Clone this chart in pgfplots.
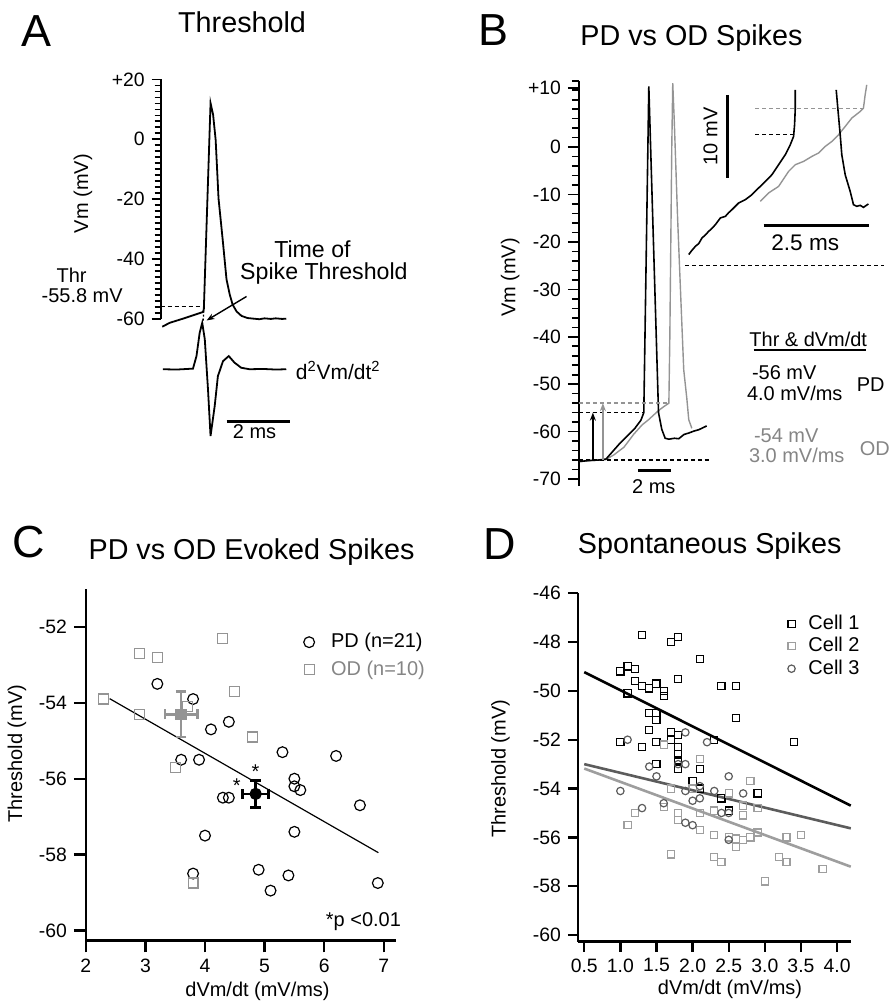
\documentclass[border=0pt]{standalone}
\usepackage{pgfplots}
\pgfplotsset{compat=1.18}
\usepackage{fontspec}
\setmainfont{Liberation Sans}
\usetikzlibrary{arrows.meta}
\definecolor{odgray}{gray}{0.58}
\definecolor{odtext}{gray}{0.52}
\definecolor{ltgray}{gray}{0.62}
\definecolor{dkgray}{gray}{0.36}
\newcommand\tickfont{\fontsize{9.7}{11}\selectfont}
\newcommand\labfont{\fontsize{10}{12}\selectfont}
\newcommand\titfont{\fontsize{14.4}{16}\selectfont}
\newcommand\letfont{\fontsize{22.5}{26}\selectfont}
\tikzset{px/.style={x=0.5pt,y=-0.5pt}}
\begin{document}
\begin{tikzpicture}
\pgfplotsset{every axis/.append style={scale only axis, clip=false,
  /pgf/number format/assume math mode=true,
  tick label style={font=\tickfont}, tick align=outside}}
\begin{scope}[px]
\path[use as bounding box] (0,0) rectangle (886,1007);
\end{scope}

% ---------------- Panel A ----------------
\begin{axis}[at={(80.5pt,-159.75pt)}, anchor=south west, width=67.2pt, height=120pt,
  xmin=0, xmax=4.2, ymin=-60, ymax=20,
  axis x line=none, axis y line*=left,
  ytick={-60,-40,-20,0,20}, yticklabels={-60,-40,-20,0,+20},
  minor y tick num=9, major tick length=4.5pt, minor tick length=3pt,
  axis line style={line width=0.9pt}, tick style={line width=0.8pt, black}]
\addplot[black, line width=0.9pt] coordinates {
(0.05,-62.6) (0.28,-61.3) (0.70,-59.9) (1.01,-58.8) (1.32,-57.7) (1.35,-56.8)
(1.56,12.1) (1.64,8.2) (1.72,-0.2) (1.81,-19.8) (1.94,-33.5) (2.06,-46.8)
(2.16,-51.8) (2.25,-55.2) (2.375,-57.5) (2.53,-59.0) (2.72,-59.7) (2.9,-59.9)
(3.09,-60.1) (3.25,-59.8) (3.45,-60.0) (3.6,-59.8) (3.8,-60.0) (3.93,-59.9)};
\addplot[black, line width=0.9pt] coordinates {
(0.07,-76.8) (0.5,-76.9) (1.01,-76.6) (1.12,-72.4) (1.22,-64.6) (1.30,-61.3)
(1.38,-66.8) (1.48,-83.5) (1.56,-99.1) (1.69,-89.1) (1.79,-79.1) (1.95,-74.1)
(2.13,-72.4) (2.31,-74.6) (2.52,-76.3) (2.78,-76.8) (3.2,-76.7) (3.6,-76.9) (3.93,-76.8)};
\draw[black, line width=0.7pt, dash pattern=on 2pt off 1.5pt] (axis cs:0,-55.9) -- (axis cs:1.35,-55.9);
\draw[black, line width=0.6pt, dash pattern=on 1pt off 1pt] (axis cs:1.35,-57.2) -- (axis cs:1.33,-60.8);
\end{axis}

% ---------------- Panel B ----------------
\begin{axis}[at={(290pt,-243.5pt)}, anchor=south west, width=64.8pt, height=203.05pt,
  xmin=0, xmax=8, ymin=-71.5, ymax=14,
  axis x line=none, axis y line*=left,
  ytick={-70,-60,-50,-40,-30,-20,-10,0,12.5},
  yticklabels={-70,-60,-50,-40,-30,-20,-10,0,+10},
  minor ytick={-70,-68,...,14}, major tick length=5.5pt, minor tick length=3.5pt,
  axis line style={line width=0.9pt}, tick style={line width=0.8pt, black}]
\addplot[odgray, line width=0.7pt] coordinates {
(0.06,-66.3) (0.8,-66.1) (1.67,-65.9) (2.16,-64.9) (2.78,-63.3) (3.40,-60.5)
(3.9,-58.6) (4.3,-57.5) (4.94,-55.5) (5.3,-54.6) (5.56,-54.0) (5.62,-40)
(5.74,0) (5.80,13.5) (5.9,5) (6.1,-15) (6.3,-32) (6.48,-47) (6.67,-53)
(6.79,-57.5) (6.98,-59.3)};
\addplot[black, line width=0.8pt] coordinates {
(0.06,-66.3) (0.6,-66.1) (1.2,-66.0) (1.67,-65.8) (1.98,-64.6) (2.47,-62.7)
(2.96,-61.0) (3.46,-59.3) (3.83,-57.6) (4.01,-56.0) (4.32,12.8) (4.92,-56)
(5.12,-59.5) (5.33,-61.4) (5.56,-61.6) (5.9,-61.4) (6.17,-61.5) (6.5,-60.6)
(6.79,-60.3) (7.1,-59.9) (7.41,-59.6) (7.9,-58.8)};
\draw[black, line width=0.7pt, dash pattern=on 2pt off 1.5pt] (axis cs:0,-56) -- (axis cs:4.01,-56);
\draw[odgray, line width=0.7pt, dash pattern=on 2pt off 1.5pt] (axis cs:0,-54) -- (axis cs:5.56,-54);
\draw[black, line width=0.7pt, dash pattern=on 2pt off 1.5pt] (axis cs:0,-66) -- (axis cs:8.1,-66);
\draw[black, line width=0.8pt, -{Stealth[length=4pt,width=3pt]}] (axis cs:0.86,-66) -- (axis cs:0.86,-56);
\draw[odgray, line width=0.8pt, -{Stealth[length=4pt,width=3pt]}] (axis cs:1.48,-66) -- (axis cs:1.48,-54);
\end{axis}
% inset
\begin{axis}[at={(340pt,-37.5pt)}, anchor=north west, width=103pt, height=100pt,
  xmin=680, xmax=886, ymin=75, ymax=275, y dir=reverse, hide axis]
\addplot[odgray, line width=0.7pt] coordinates {
(761.7,201.7) (770,193.3) (780,186.7) (790,171.7) (796.7,165) (805,161.7)
(813.3,156.7) (820,153.3) (826.7,146.7) (833.3,141.7) (840,135) (846.7,126.7)
(853.3,118.3) (861.7,111.7) (865,108.3) (866.7,95) (868.3,85)};
\addplot[black, line width=0.8pt] coordinates {
(690,255) (693,251) (696.7,246.7) (700,244) (703.3,238.3) (706,236) (710,231.7)
(713,229) (716.7,225) (721.7,218.3) (726.7,216.7) (730,213) (733.3,210) (740,203.3)
(746.7,200) (753.3,195) (760,188.3) (766.7,181.7) (773.3,175) (780,165)
(786.7,155) (791.7,145) (795,136.7) (796,125) (796.7,108.3) (796.7,90)};
\addplot[black, line width=0.8pt] coordinates {
(837.7,90) (839.3,108.3) (841.7,135) (843.3,155) (846.7,175) (851.7,191.7)
(855,205) (858.3,206.7) (861.7,205.7) (865,207.7) (870,204.3)};
\draw[odgray, line width=0.6pt, dash pattern=on 2pt off 1.5pt] (axis cs:756.7,108.3) -- (axis cs:866.7,108.3);
\draw[black, line width=0.7pt, dash pattern=on 2pt off 1.5pt] (axis cs:756.7,135) -- (axis cs:795,135);
\end{axis}

% ---------------- Panel C ----------------
\begin{axis}[at={(43pt,-471pt)}, anchor=south west, width=155.2pt, height=175.95pt,
  xmin=2, xmax=7.2, ymin=-60.26, ymax=-51.0,
  axis lines*=left, xtick={2,3,4,5,6,7}, ytick={-60,-58,-56,-54,-52},
  major tick length=6pt,
  axis line style={line width=1.2pt}, tick style={line width=1.2pt, black},
  legend style={at={(axis cs:5.55,-51.95)}, anchor=north west, draw=none, fill=none,
    font=\labfont, row sep=1pt},
  legend image code/.code={\draw[#1] plot coordinates {(0pt,0pt)}; \path[draw=none] (0pt,0pt) -- (9pt,0pt);},
  legend cell align=left]
\addplot[black, line width=0.6pt, forget plot] coordinates {(2.4,-53.89) (6.91,-57.95)};
\addplot[only marks, mark=o, mark size=2.7pt, black, mark options={line width=0.6pt}] coordinates {
(3.2,-53.5) (3.8,-53.9) (4.1,-54.7) (4.4,-54.5) (3.6,-55.5) (3.9,-55.5) (5.3,-55.3)
(6.2,-55.4) (5.5,-56.0) (5.5,-56.2) (5.6,-56.3) (4.3,-56.5) (4.4,-56.5) (6.6,-56.7)
(4.0,-57.5) (5.5,-57.4) (4.9,-58.4) (5.4,-58.55) (5.1,-58.95) (6.9,-58.75) (3.8,-58.5)};
\addlegendentry{PD (n=21)}
\addplot[only marks, mark=square, mark size=2.5pt, odgray, mark options={line width=0.6pt}] coordinates {
(2.3,-53.9) (2.9,-52.7) (3.2,-52.8) (2.9,-54.3) (4.3,-52.3) (4.5,-53.7) (4.8,-54.9)
(3.5,-55.7) (3.8,-58.75) (3.7,-54.1)};
\addlegendentry{\textcolor{odtext}{OD (n=10)}}
\addplot[odgray, mark=square*, mark size=2.2pt, line width=1.3pt, forget plot,
  error bars/.cd, x dir=both, x explicit, y dir=both, y explicit,
  error bar style={line width=1.3pt},
  error mark options={rotate=90, mark size=2.6pt, line width=1.3pt}]
  coordinates {(3.6,-54.3) +- (0.27,0.6)};
\addplot[black, mark=*, mark size=2.4pt, line width=1.3pt, forget plot,
  error bars/.cd, x dir=both, x explicit, y dir=both, y explicit,
  error bar style={line width=1.3pt},
  error mark options={rotate=90, mark size=2.6pt, line width=1.3pt}]
  coordinates {(4.85,-56.4) +- (0.22,0.36)};
\end{axis}

% ---------------- Panel D ----------------
\begin{axis}[at={(289.5pt,-471.65pt)}, anchor=south west, width=136.65pt, height=174.5pt,
  xmin=0.413, xmax=4.19, ymin=-60.27, ymax=-46,
  axis lines*=left, xtick={0.5,1.0,1.5,2.0,2.5,3.0,3.5,4.0},
  ytick={-60,-58,-56,-54,-52,-50,-48,-46},
  xticklabel style={/pgf/number format/.cd, fixed, fixed zerofill, precision=1},
  major tick length=5pt,
  axis line style={line width=1.2pt}, tick style={line width=1.2pt, black},
  legend style={at={(axis cs:3.23,-46.55)}, anchor=north west, draw=none, fill=none,
    font=\labfont, row sep=-1.5pt},
  legend image code/.code={\draw[#1] plot coordinates {(0pt,0pt)}; \path[draw=none] (0pt,0pt) -- (6.5pt,0pt);},
  legend cell align=left]
\addplot[only marks, mark=square, mark size=1.8pt, black, mark options={line width=0.6pt}] coordinates {
(1.0,-49.2) (1.1,-49.0) (1.2,-49.1) (1.1,-50.1) (1.2,-49.6) (1.3,-47.7) (1.3,-49.8)
(1.4,-49.9) (1.5,-49.7) (1.6,-50.0) (1.6,-50.2) (1.7,-48.0) (1.8,-47.8) (1.8,-49.5)
(2.1,-48.7) (2.4,-49.8) (2.6,-49.8) (2.6,-51.1) (3.4,-52.1) (1.4,-50.9) (1.5,-50.9)
(1.5,-51.2) (1.4,-51.6) (1.0,-52.1) (1.3,-52.3) (1.5,-52.1) (1.5,-53.0) (1.7,-51.7)
(1.7,-52.0) (1.8,-51.8) (1.8,-52.3) (1.8,-52.6) (1.8,-52.85) (1.8,-53.2) (2.1,-53.2)
(2.3,-52.0) (2.0,-53.7) (2.1,-54.0) (2.4,-54.4) (2.5,-54.9) (2.9,-54.2)};
\addlegendentry{Cell 1}
\addplot[only marks, mark=square, mark size=1.8pt, ltgray, mark options={line width=0.6pt}] coordinates {
(1.6,-52.2) (2.1,-52.8) (1.1,-55.5) (1.2,-55.0) (1.6,-54.75) (1.7,-54.0) (1.8,-55.0)
(1.8,-55.3) (1.7,-56.7) (2.0,-54.0) (2.1,-55.0) (2.1,-55.7) (2.3,-54.9) (2.3,-55.9)
(2.3,-56.8) (2.4,-57.0) (2.5,-54.2) (2.5,-56.0) (2.6,-56.4) (2.6,-56.05) (2.7,-54.7)
(2.7,-55.1) (2.7,-56.1) (2.8,-56.0) (2.8,-53.7) (2.9,-54.8) (2.9,-55.8) (3.2,-56.8)
(3.3,-56.0) (3.3,-57.0) (3.0,-57.8) (3.5,-55.9) (3.8,-57.3)};
\addlegendentry{Cell 2}
\addplot[only marks, mark=o, mark size=1.85pt, dkgray, mark options={line width=0.6pt}] coordinates {
(1.0,-54.1) (1.1,-52.0) (1.3,-54.8) (1.4,-53.1) (1.5,-53.5) (1.6,-54.6) (1.8,-53.0)
(1.9,-53.0) (1.9,-51.7) (1.9,-54.1) (1.9,-55.4) (2.0,-54.5) (2.0,-55.5) (2.1,-53.9)
(2.1,-54.4) (2.2,-52.1) (2.3,-54.1) (2.4,-55.0) (2.5,-53.5) (2.5,-55.0) (2.5,-56.1)
(2.7,-54.2)};
\addlegendentry{Cell 3}
\addplot[black, line width=1.3pt, forget plot] coordinates {(0.5,-49.23) (4.19,-54.7)};
\addplot[dkgray, line width=1.3pt, forget plot] coordinates {(0.5,-53.0) (4.19,-55.63)};
\addplot[ltgray, line width=1.3pt, forget plot] coordinates {(0.5,-53.18) (4.19,-57.2)};
\end{axis}

% ---------------- decorations (pixel coordinates) ----------------
\begin{scope}[px]
% A
\node[font=\letfont,anchor=base] at (37,46.7) {A};
\node[font=\titfont,anchor=base] at (242.5,32.3) {Threshold};
\node[font=\labfont, rotate=90] at (83,194) {Vm (mV)};
\draw[line width=0.7pt, -{Stealth[length=4pt,width=3pt]}] (247,297) -- (207,321);
\node[font=\fontsize{11.6}{13}\selectfont, anchor=base, inner sep=0pt] at (313,258) {Time of};
\node[font=\fontsize{11.6}{13}\selectfont, anchor=base, inner sep=0pt] at (324.5,280) {Spike Threshold};
\node[font=\labfont, anchor=base] at (71.7,282.7) {Thr};
\node[font=\labfont, anchor=base] at (82.3,303.3) {-55.8 mV};
\node[font=\fontsize{10.5}{12}\selectfont, anchor=base west, inner sep=0pt] at (296,380) {d\textsuperscript{2}Vm/dt\textsuperscript{2}};
\draw[line width=1.5pt] (227,422) -- (291,422);
\node[font=\labfont, anchor=base] at (255,439.3) {2 ms};
% B
\node[font=\letfont,anchor=base] at (494,46) {B};
\node[font=\titfont,anchor=base] at (692.7,45.7) {PD vs OD Spikes};
\node[font=\labfont, rotate=90] at (511,278) {Vm (mV)};
\draw[line width=1.5pt] (639.3,471.7) -- (671.7,471.7);
\node[font=\labfont, anchor=base] at (655,494) {2 ms};
\draw[line width=1.5pt] (728.3,95) -- (728.3,178.3);
\node[font=\labfont, rotate=90] at (711.7,136.7) {10 mV};
\draw[line width=1.5pt] (765,225.7) -- (871,225.7);
\node[font=\fontsize{11.3}{13}\selectfont, anchor=base] at (806.7,251) {2.5 ms};
\draw[black, line width=0.7pt, dash pattern=on 2pt off 1.5pt] (686.7,266) -- (886,266);
\node[font=\labfont, anchor=base] at (809.7,346.7) {Thr \& dVm/dt};
\draw[line width=1.2pt] (755,350.7) -- (868,350.7);
\node[font=\labfont, anchor=base west, inner sep=0pt] at (753,380) {-56 mV};
\node[font=\labfont, anchor=base west, inner sep=0pt] at (748,401.7) {4.0 mV/ms};
\node[font=\labfont, anchor=base west, inner sep=0pt] at (858,391.7) {PD};
\node[font=\labfont, anchor=base west, inner sep=0pt, text=odtext] at (755,443.3) {-54 mV};
\node[font=\labfont, anchor=base west, inner sep=0pt, text=odtext] at (750,463.3) {3.0 mV/ms};
\node[font=\labfont, anchor=base west, inner sep=0pt, text=odtext] at (861,456.7) {OD};
% C
\node[font=\letfont,anchor=base] at (29,558.3) {C};
\node[font=\titfont,anchor=base] at (252,560.7) {PD vs OD Evoked Spikes};
\node[font=\labfont] at (256,773) {*};
\node[font=\labfont] at (237.3,787) {*};
\node[font=\labfont, anchor=base east, inner sep=0pt] at (402,927.7) {*p <0.01};
\node[font=\labfont, rotate=90] at (17,755) {Threshold (mV)};
\node[font=\labfont, anchor=base] at (258,998) {dVm/dt (mV/ms)};
% D
\node[font=\letfont,anchor=base] at (501,560) {D};
\node[font=\titfont,anchor=base] at (711,554.3) {Spontaneous Spikes};
\node[font=\labfont, rotate=90] at (501.3,770) {Threshold (mV)};
\node[font=\labfont, anchor=base] at (731.3,996.7) {dVm/dt (mV/ms)};
\end{scope}
\end{tikzpicture}
\end{document}
